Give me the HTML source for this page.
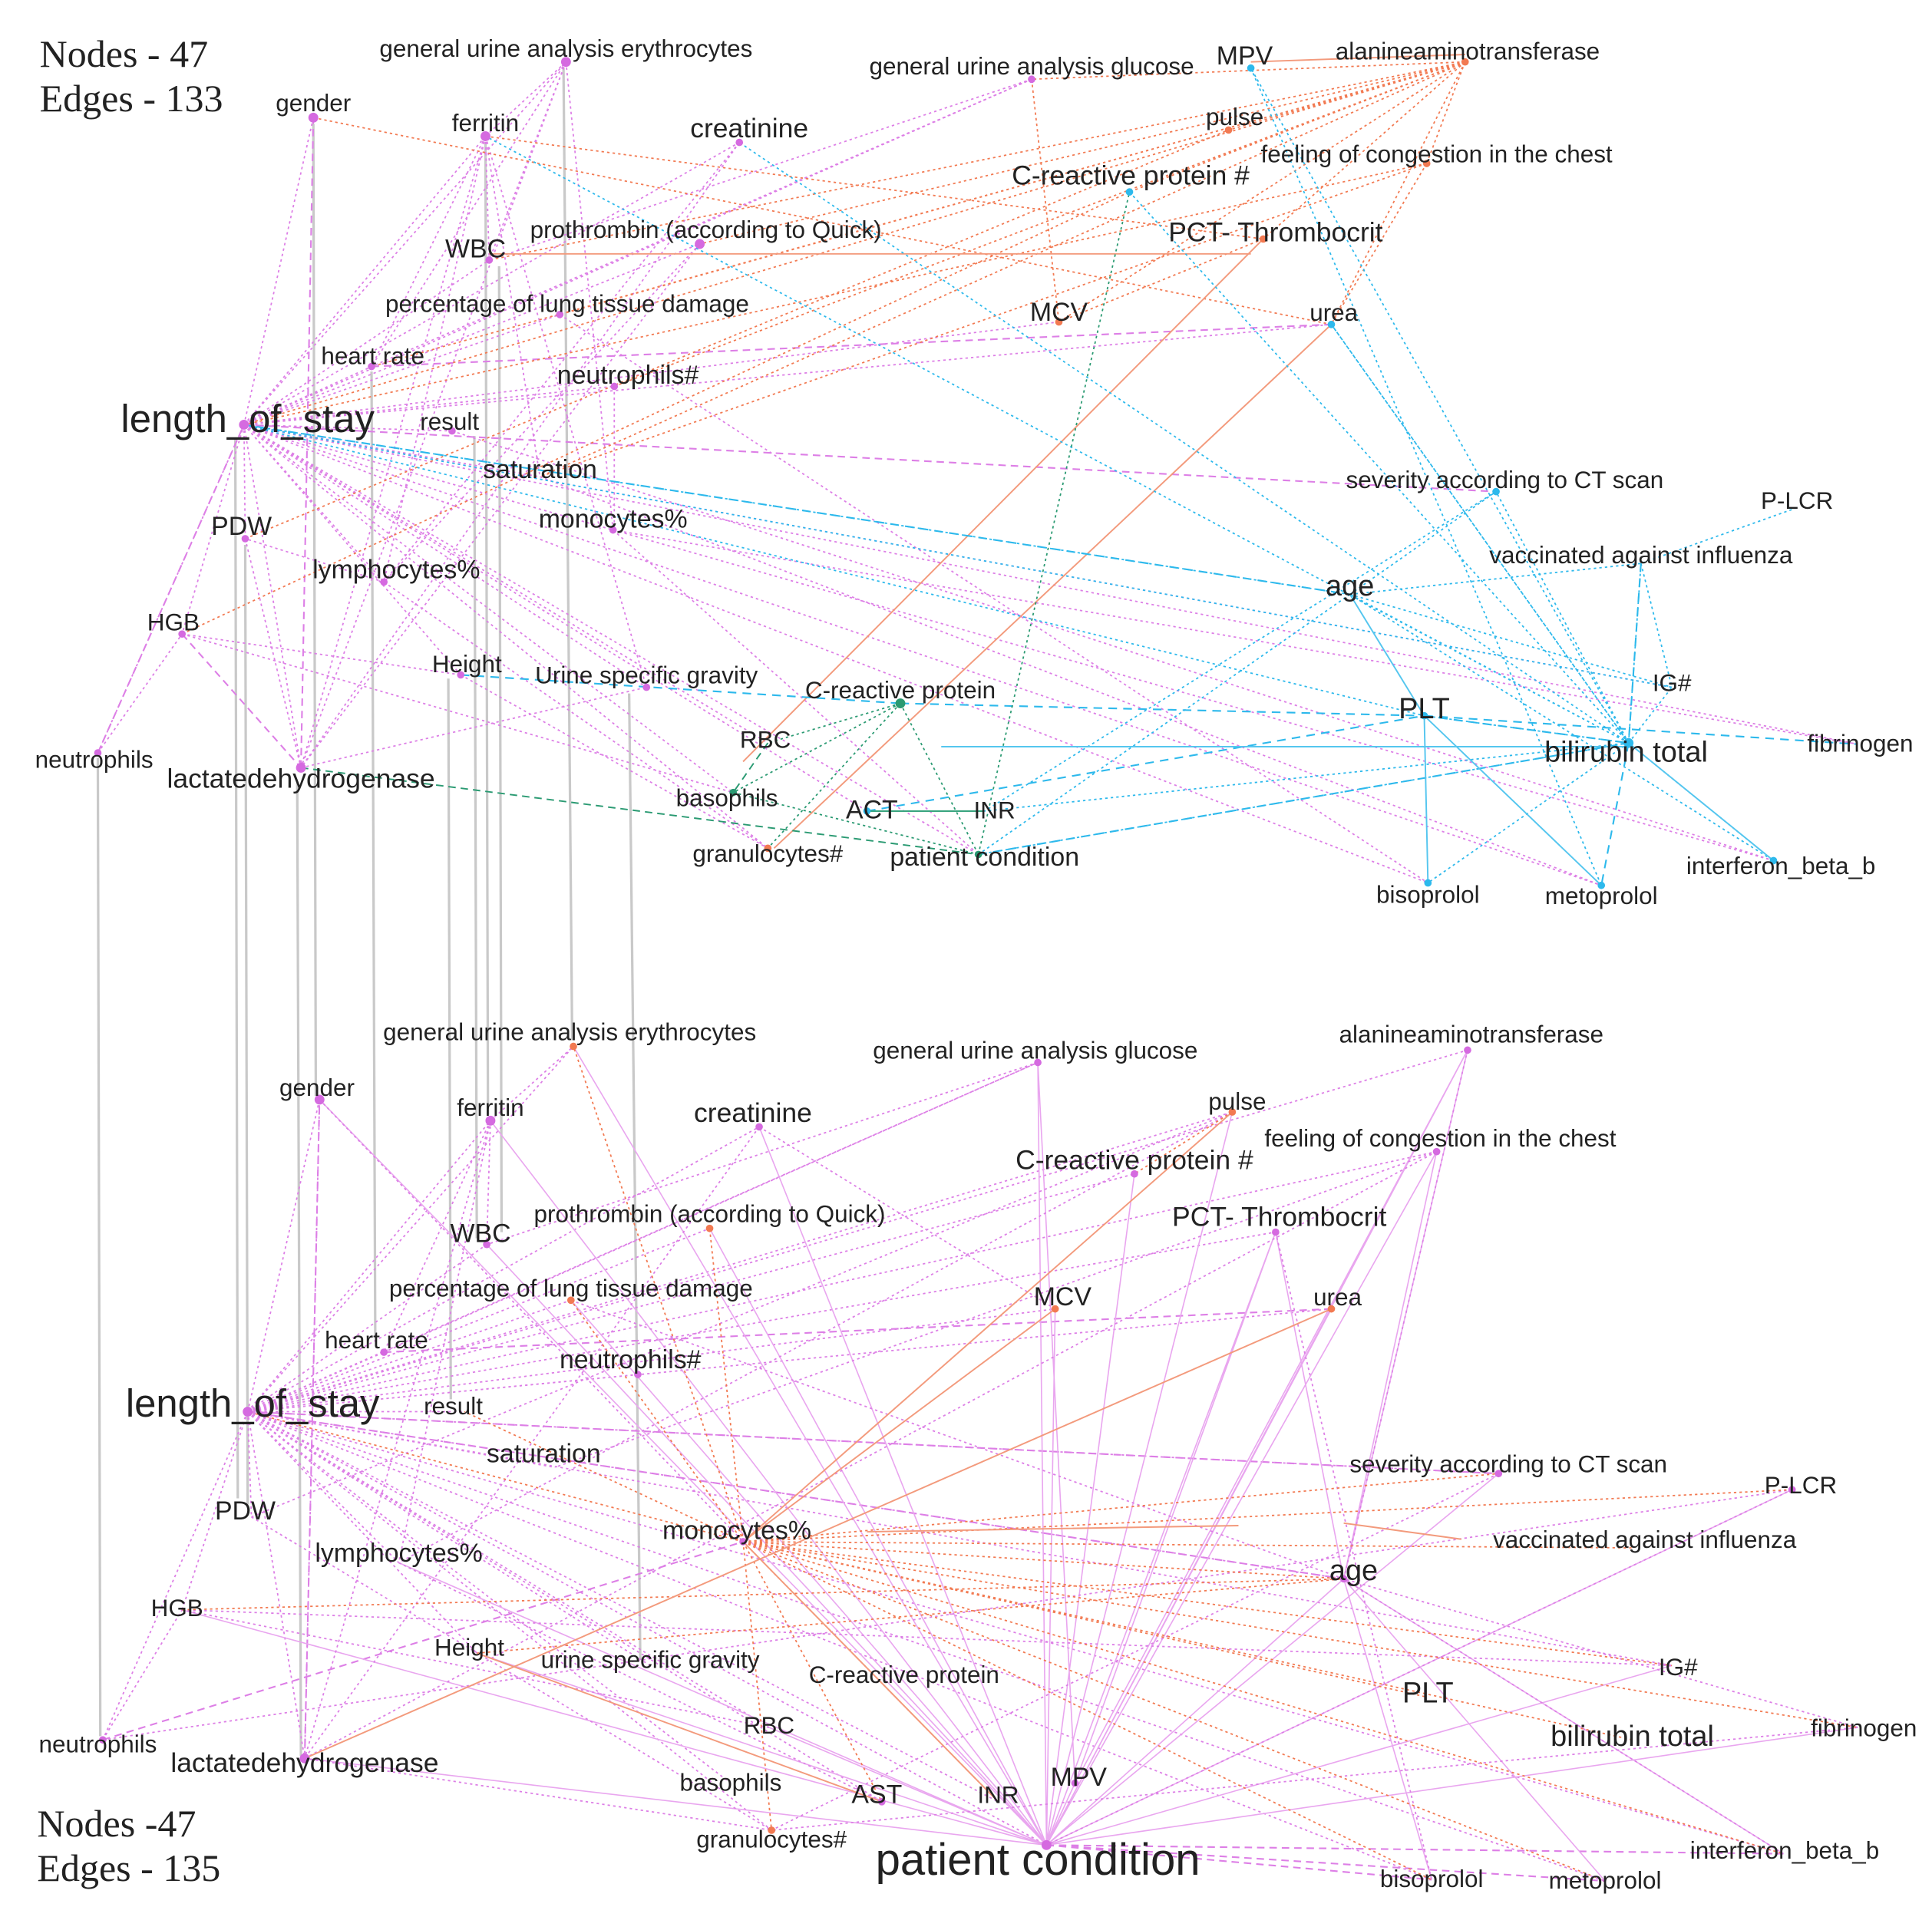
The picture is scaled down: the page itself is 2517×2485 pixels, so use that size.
<!DOCTYPE html>
<html><head><meta charset="utf-8"><style>
html,body{margin:0;padding:0;background:#fff;}
svg{display:block}
text{font-family:"Liberation Sans",Arial,sans-serif;fill:#222;text-anchor:middle}
.s{font-family:"Liberation Serif",serif;text-anchor:start;fill:#222}
.p{stroke:#dd7fe6;stroke-width:1.1;fill:none;stroke-dasharray:2 2.5}
.pd{stroke:#dd7fe6;stroke-width:1.3;fill:none;stroke-dasharray:6 4}
.ps{stroke:#e9a6ef;stroke-width:1;fill:none}
.o{stroke:#f27a52;stroke-width:1.1;fill:none;stroke-dasharray:2 2.5}
.os{stroke:#f39a7c;stroke-width:1.2;fill:none}
.c{stroke:#2db9ec;stroke-width:1.1;fill:none;stroke-dasharray:2 2.5}
.cd{stroke:#2db9ec;stroke-width:1.3;fill:none;stroke-dasharray:7 5}
.cs{stroke:#55c6ef;stroke-width:1.2;fill:none}
.g{stroke:#2a9a72;stroke-width:1.1;fill:none;stroke-dasharray:2 2.5}
.gd{stroke:#2a9a72;stroke-width:1.2;fill:none;stroke-dasharray:6 4}
.gs{stroke:#3aa57f;stroke-width:1.3;fill:none}
.gr{stroke:#c9c9c9;stroke-width:2;fill:none}
</style></head><body>
<svg width="2517" height="2485" viewBox="0 0 1560 1540" preserveAspectRatio="none">
<path class="gr" d="M79 612L81 1402M190 355L192 1210M198 440L200 1215M240 632L243 1418M253 100L255 885M300 300L303 1080M362 548L364 1130M383 352L385 1000M392 115L394 900M403 215L405 995M455 55L462 840M508 560L517 1340"/>

<path class="p" d="M197 343L253 95M197 343L392 110M197 343L395 210M197 343L452 254M197 343L300 296M197 343L496 312M197 343L365 348M197 343L436 385M197 343L495 428M197 343L198 435M197 343L310 470M197 343L147 512M197 343L79 608M197 343L243 620M197 343L372 545M197 343L522 555M197 343L620 600M197 343L592 640M197 343L620 685M197 343L700 655M197 343L790 690M197 343L1153 713M197 343L1293 715M197 343L1432 695M197 343L1500 601M197 343L1350 555M197 343L457 50M197 343L597 115M197 343L565 197M197 343L855 260M197 343L833 64M197 343L1075 262"/>
<path class="pd" d="M197 343L1208 397M300 296L1075 262M243 620L253 95M147 512L243 620M79 608L197 343"/>
<path class="p" d="M392 110L395 210M392 110L300 296M392 110L310 470M392 110L457 50M392 110L243 620M392 110L436 385M392 110L522 555M457 50L395 210M457 50L495 428M457 50L300 296M457 50L243 620M597 115L243 620M597 115L310 470M833 64L300 296M833 64L395 210M565 197L243 620M565 197L310 470M310 470L620 685M310 470L198 435M496 312L496 428M372 545L620 685M147 512L592 640M243 620L522 555M198 435L243 620M79 608L147 512M147 512L372 545M495 428L790 690M365 348L1432 695M436 385L1293 715M452 254L1153 713M495 428L1500 601"/>
<path class="o" d="M1183 50L833 64M1183 50L992 105M1183 50L1152 132M1183 50L912 155M1183 50L1020 193M1183 50L855 260M1183 50L1075 262M1183 50L395 210M1183 50L565 197M1183 50L452 254M1183 50L197 343M1183 50L436 385M1183 50L300 296M1183 50L496 312M253 95L1075 262M833 64L855 260M147 512L912 155M392 110L1020 193M1152 132L436 385M1152 132L1075 262M1152 132L197 343M1020 193L855 260M198 435L992 105"/>
<path class="os" d="M625 685L1075 262M600 615L1020 193M395 205L1010 205M1010 50L1183 44"/>
<path class="c" d="M1315 600L1010 55M1315 600L597 115M1315 600L912 155M1315 600L1075 262M1315 600L1208 397M1315 600L1090 480M1315 600L1150 578M1315 600L1350 555M1315 600L1325 455M1315 600L1432 695M1315 600L1153 713M1315 600L790 690M1315 600L795 655M1315 600L392 110M1090 480L197 343M1090 480L1325 455M1090 480L1208 397M1090 480L790 690M1090 480L1432 695M1090 480L1350 555M1451 410L1325 455M1325 455L1350 555M1208 397L795 655M1075 262L1315 600M197 343L1350 555M197 343L1150 578M1010 55L1293 715"/>
<path class="cd" d="M197 343L1090 480M372 545L727 568M727 568L1150 578M1150 578L1500 601M700 655L1150 578M790 690L1315 600M1315 600L1293 715M1325 455L1315 600M1150 578L1315 600"/>
<path class="cs" d="M1150 578L1153 713M1150 578L1293 715M1090 480L1150 578M760 603L1315 603M1315 600L1432 695"/>
<path class="g" d="M727 568L620 600M727 568L592 640M727 568L620 685M727 568L790 690M790 690L912 155M592 640L790 690"/>
<path class="gd" d="M243 620L790 690M620 600L592 640"/>
<path class="gs" d="M700 655L795 655"/>
<g fill="#d56ae0">
<circle cx="457" cy="50" r="4"/><circle cx="253" cy="95" r="4"/><circle cx="392" cy="110" r="4"/><circle cx="597" cy="115" r="3"/><circle cx="833" cy="64" r="3"/><circle cx="565" cy="197" r="4"/><circle cx="395" cy="210" r="3"/><circle cx="452" cy="254" r="3"/><circle cx="300" cy="296" r="3"/><circle cx="496" cy="312" r="3"/><circle cx="197" cy="343" r="4"/><circle cx="365" cy="348" r="3"/><circle cx="495" cy="428" r="3"/><circle cx="198" cy="435" r="3"/><circle cx="310" cy="470" r="3"/><circle cx="147" cy="512" r="3"/><circle cx="372" cy="545" r="3"/><circle cx="522" cy="555" r="3"/><circle cx="79" cy="608" r="3"/><circle cx="243" cy="620" r="4"/>
</g>
<g fill="#f27a52"><circle cx="1183" cy="50" r="3"/><circle cx="992" cy="105" r="3"/><circle cx="1152" cy="132" r="3"/><circle cx="1020" cy="193" r="3"/><circle cx="855" cy="260" r="3"/><circle cx="620" cy="685" r="3"/></g>
<g fill="#2db9ec"><circle cx="1010" cy="55" r="3"/><circle cx="1075" cy="262" r="3"/><circle cx="1208" cy="397" r="3"/><circle cx="1150" cy="578" r="3"/><circle cx="1315" cy="600" r="4"/><circle cx="1153" cy="713" r="3"/><circle cx="1293" cy="715" r="3"/><circle cx="1432" cy="695" r="3"/><circle cx="700" cy="655" r="3"/><circle cx="912" cy="155" r="3"/></g>
<g fill="#2a9a72"><circle cx="727" cy="568" r="4"/><circle cx="592" cy="640" r="3"/><circle cx="790" cy="690" r="3"/></g>
<text class="s" x="32" y="54" font-size="31">Nodes - 47</text>
<text class="s" x="32" y="90" font-size="31">Edges - 133</text>
<g font-size="19.5">
<text x="457" y="46">general urine analysis erythrocytes</text>
<text x="253" y="90">gender</text>
<text x="392" y="106">ferritin</text>
<text x="833" y="60">general urine analysis glucose</text>
<text x="1185" y="48">alanineaminotransferase</text>
<text x="997" y="101">pulse</text>
<text x="1160" y="131">feeling of congestion in the chest</text>
<text x="570" y="192">prothrombin (according to Quick)</text>
<text x="458" y="252">percentage of lung tissue damage</text>
<text x="1077" y="259">urea</text>
<text x="301" y="294">heart rate</text>
<text x="363" y="347">result</text>
<text x="1215" y="394">severity according to CT scan</text>
<text x="1451" y="411">P-LCR</text>
<text x="1325" y="455">vaccinated against influenza</text>
<text x="140" y="509">HGB</text>
<text x="377" y="543">Height</text>
<text x="522" y="552">Urine specific gravity</text>
<text x="727" y="564">C-reactive protein</text>
<text x="1350" y="558">IG#</text>
<text x="1502" y="607">fibrinogen</text>
<text x="76" y="620">neutrophils</text>
<text x="618" y="604">RBC</text>
<text x="587" y="651">basophils</text>
<text x="803" y="661">INR</text>
<text x="620" y="696">granulocytes#</text>
<text x="1438" y="706">interferon_beta_b</text>
<text x="1153" y="729">bisoprolol</text>
<text x="1293" y="730">metoprolol</text>
</g>
<g font-size="21">
<text x="1005" y="52">MPV</text>
<text x="384" y="208">WBC</text>
<text x="855" y="259">MCV</text>
<text x="507" y="310">neutrophils#</text>
<text x="436" y="386">saturation</text>
<text x="495" y="426">monocytes%</text>
<text x="195" y="432">PDW</text>
<text x="320" y="467">lymphocytes%</text>
<text x="704" y="661">ACT</text>
<text x="795" y="699">patient condition</text>
</g>
<g font-size="22">
<text x="605" y="111">creatinine</text>
<text x="913" y="149">C-reactive protein #</text>
<text x="1030" y="195">PCT- Thrombocrit</text>
<text x="243" y="636">lactatedehydrogenase</text>
</g>
<g font-size="23.5">
<text x="1090" y="481">age</text>
<text x="1150" y="580">PLT</text>
<text x="1313" y="615">bilirubin total</text>
</g>
<text x="200" y="349" font-size="31.5">length_of_stay</text>

<path class="p" d="M200 1140L258 888M200 1140L396 905M200 1140L463 845M200 1140L613 910M200 1140L573 992M200 1140L393 1005M200 1140L461 1050M200 1140L310 1092M200 1140L515 1110M200 1140L375 1140M200 1140L448 1185M200 1140L203 1225M200 1140L322 1262M200 1140L147 1300M200 1140L83 1405M200 1140L246 1420M200 1140L385 1335M200 1140L525 1345M200 1140L621 1395M200 1140L590 1440M200 1140L623 1478M200 1140L712 1455M200 1140L806 1455M200 1140L845 1490M200 1140L1156 1518M200 1140L1296 1519M200 1140L1440 1497M200 1140L1350 1345M200 1140L1085 1275M200 1140L1210 1190M200 1140L838 858M200 1140L995 898M200 1140L1160 930M200 1140L916 948M200 1140L1030 995M200 1140L852 1057M200 1140L1075 1057M200 1140L1185 848"/>
<path class="pd" d="M200 1140L1210 1190M200 1140L1085 1275M246 1420L258 888M83 1405L600 1245M310 1092L1075 1057M845 1490L1156 1518M845 1490L1296 1519M845 1490L1440 1497"/>
<path class="ps" d="M845 1490L852 1057M845 1490L1030 995M845 1490L1075 1057M845 1490L995 898M845 1490L838 858M845 1490L1185 848M845 1490L1085 1275M845 1490L613 910M845 1490L916 948M845 1490L1160 930M845 1490L573 992M845 1490L463 845M845 1490L621 1395M845 1490L868 1440M845 1490L1210 1190M845 1490L1447 1203M845 1490L1500 1395M845 1490L1350 1345M845 1490L396 905M845 1490L258 888M845 1490L393 1005M845 1490L461 1050M845 1490L147 1300M845 1490L246 1420M845 1490L385 1335M845 1490L322 1262M1085 1275L1160 930M1085 1275L1185 848M1085 1275L1030 995M1085 1275L1296 1519M1085 1275L1440 1497M1085 1275L1156 1518M868 1440L1185 848M868 1440L838 858M868 1440L1030 995"/>
<path class="p" d="M396 905L463 845M396 905L393 1005M396 905L310 1092M396 905L322 1262M396 905L246 1420M258 888L246 1420M258 888L600 1245M613 910L246 1420M613 910L852 1057M838 858L310 1092M838 858L393 1005M995 898L322 1262M995 898L203 1225M1160 930L246 1420M1160 930L448 1185M1185 848L1085 1275M1447 1203L83 1405M1447 1203L845 1490M1500 1395L1085 1275M147 1300L621 1395M83 1405L147 1300M246 1420L623 1478M203 1225L623 1478M147 1300L1350 1345M322 1262L712 1455M1210 1190L623 1478M1500 1395L623 1478M1440 1497L1085 1275M461 1050L1085 1275M1030 995L1156 1518"/>
<path class="o" d="M600 1245L1210 1190M600 1245L1447 1203M600 1245L1320 1250M600 1245L1085 1275M600 1245L1350 1345M600 1245L1500 1395M600 1245L1440 1497M600 1245L1296 1519M600 1245L1156 1518M600 1245L1150 1370M600 1245L1318 1405M600 1245L463 845M600 1245L623 1478M600 1245L573 992M600 1245L461 1050M600 1245L375 1140M600 1245L712 1455M600 1245L806 1455M147 1300L1085 1275M385 1335L1085 1275M600 1245L200 1140M995 898L916 948"/>
<path class="os" d="M246 1420L1075 1057M600 1245L995 898M600 1245L852 1057M1085 1230L1180 1243M700 1237L1000 1232M600 1245L806 1455M385 1335L712 1455"/>
<g fill="#d56ae0">
<circle cx="258" cy="888" r="4"/><circle cx="396" cy="905" r="4"/><circle cx="613" cy="910" r="3"/><circle cx="838" cy="858" r="3"/><circle cx="1185" cy="848" r="3"/><circle cx="1160" cy="930" r="3"/><circle cx="916" cy="948" r="3"/><circle cx="1030" cy="995" r="3"/><circle cx="393" cy="1005" r="3"/><circle cx="310" cy="1092" r="3"/><circle cx="515" cy="1110" r="3"/><circle cx="200" cy="1140" r="4"/><circle cx="1210" cy="1190" r="3"/><circle cx="1447" cy="1203" r="3"/><circle cx="1085" cy="1275" r="3"/><circle cx="83" cy="1405" r="3"/><circle cx="246" cy="1420" r="4"/><circle cx="868" cy="1440" r="3"/><circle cx="712" cy="1455" r="3"/><circle cx="845" cy="1490" r="4"/><circle cx="600" cy="1245" r="3"/>
</g>
<g fill="#f27a52"><circle cx="463" cy="845" r="3"/><circle cx="995" cy="898" r="3"/><circle cx="573" cy="992" r="3"/><circle cx="852" cy="1057" r="3"/><circle cx="1075" cy="1057" r="3"/><circle cx="461" cy="1050" r="3"/><circle cx="623" cy="1478" r="3"/></g>
<text class="s" x="30" y="1483" font-size="31">Nodes -47</text>
<text class="s" x="30" y="1519" font-size="31">Edges - 135</text>
<g font-size="19.5">
<text x="460" y="840">general urine analysis erythrocytes</text>
<text x="256" y="885">gender</text>
<text x="396" y="901">ferritin</text>
<text x="836" y="855">general urine analysis glucose</text>
<text x="1188" y="842">alanineaminotransferase</text>
<text x="999" y="896">pulse</text>
<text x="1163" y="926">feeling of congestion in the chest</text>
<text x="573" y="987">prothrombin (according to Quick)</text>
<text x="461" y="1047">percentage of lung tissue damage</text>
<text x="1080" y="1054">urea</text>
<text x="304" y="1089">heart rate</text>
<text x="366" y="1142">result</text>
<text x="1218" y="1189">severity according to CT scan</text>
<text x="1454" y="1206">P-LCR</text>
<text x="1328" y="1250">vaccinated against influenza</text>
<text x="143" y="1305">HGB</text>
<text x="379" y="1337">Height</text>
<text x="525" y="1347">urine specific gravity</text>
<text x="730" y="1359">C-reactive protein</text>
<text x="1355" y="1353">IG#</text>
<text x="621" y="1400">RBC</text>
<text x="1505" y="1402">fibrinogen</text>
<text x="79" y="1415">neutrophils</text>
<text x="590" y="1446">basophils</text>
<text x="806" y="1456">INR</text>
<text x="623" y="1492">granulocytes#</text>
<text x="1441" y="1501">interferon_beta_b</text>
<text x="1156" y="1524">bisoprolol</text>
<text x="1296" y="1525">metoprolol</text>
</g>
<g font-size="21">
<text x="388" y="1003">WBC</text>
<text x="858" y="1054">MCV</text>
<text x="509" y="1105">neutrophils#</text>
<text x="439" y="1181">saturation</text>
<text x="198" y="1227">PDW</text>
<text x="595" y="1243">monocytes%</text>
<text x="322" y="1261">lymphocytes%</text>
<text x="871" y="1442">MPV</text>
<text x="708" y="1456">AST</text>
</g>
<g font-size="22">
<text x="608" y="906">creatinine</text>
<text x="916" y="944">C-reactive protein #</text>
<text x="1033" y="990">PCT- Thrombocrit</text>
<text x="246" y="1431">lactatedehydrogenase</text>
</g>
<g font-size="23.5">
<text x="1093" y="1276">age</text>
<text x="1153" y="1375">PLT</text>
<text x="1318" y="1410">bilirubin total</text>
</g>
<text x="204" y="1144" font-size="31.5">length_of_stay</text>
<text x="838" y="1514" font-size="36">patient condition</text>
</svg>
</body></html>
